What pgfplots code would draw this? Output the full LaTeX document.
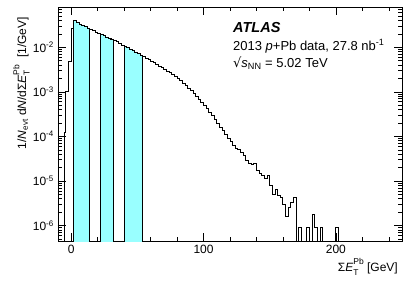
\documentclass[border=0pt]{standalone}
\usepackage{fontspec}
\setmainfont{Liberation Sans}
\newfontfamily\dejavu{DejaVu Sans}
\usepackage{pgfplots}
\pgfplotsset{compat=1.18}
\definecolor{atlcyan}{RGB}{153,255,255}
\newcommand{\ETPb}{\textit{E}\makebox[0pt][l]{\raisebox{-0.3em}{\fontsize{8.5}{9}\selectfont T}}\raisebox{0.55em}{\fontsize{8.5}{9}\selectfont Pb}}
\begin{document}
\fontsize{12}{14}\selectfont
\begin{tikzpicture}
\begin{axis}[
  scale only axis, width=344pt, height=234pt,
  ymode=log, log basis y=10,
  xmin=-10, xmax=250, ymin=4.5e-7, ymax=0.08,
  xtick={0,100,200}, minor xtick={20,40,60,80,120,140,160,180,220,240},
  /pgf/number format/assume math mode=true,
  yticklabel={10\textsuperscript{\pgfmathparse{int(round(\tick))}\pgfmathresult}},
  major tick length=8pt, minor tick length=4pt,
  tick style={black, line width=0.5pt},
  axis line style={line width=0.6pt},
  xlabel={Σ\ETPb\ [GeV]},
  ylabel={1/\textit{N}\textsubscript{evt} d\textit{N}/dΣ\ETPb\ \ [1/GeV]},
  every axis x label/.style={at={(rel axis cs:1,0)}, anchor=base east, yshift=-30.5pt},
  every axis y label/.style={at={(rel axis cs:0,0.974)}, rotate=90, anchor=base east, yshift=32pt},
  clip=true,
]
% shaded intervals
\addplot[const plot mark left, fill=atlcyan, draw=black, line width=0.8pt] coordinates {
(2,1e-9) (2,0.0398) (4,0.0363) (6,0.0331) (8,0.0309) (10,0.0288) (12,0.0269) (14,1e-9)} -- cycle;
\addplot[const plot mark left, fill=atlcyan, draw=black, line width=0.8pt] coordinates {
(22,1e-9) (22,0.0191) (24,0.0180) (26,0.0170) (28,0.0160) (30,0.0151) (32,1e-9)} -- cycle;
\addplot[const plot mark left, fill=atlcyan, draw=black, line width=0.8pt] coordinates {
(40,1e-9) (40,0.0105) (42,0.00977) (44,0.00912) (46,0.00851) (48,0.00776) (50,0.00724) (52,0.00661) (54,1e-9)} -- cycle;
% histogram
\addplot[const plot mark left, draw=black, line width=0.9pt] coordinates {
(-5,1e-9) (-5,1.2e-4) (-4,1.0e-3) (-2,4.7e-3) (0,0.026)
(2,0.0398) (4,0.0363) (6,0.0331) (8,0.0309) (10,0.0288) (12,0.0269)
(14,0.0251) (16,0.0234) (18,0.0219) (20,0.0204) (22,0.0191) (24,0.0180)
(26,0.0170) (28,0.0160) (30,0.0151) (32,0.0141) (34,0.0132) (36,0.0123)
(38,0.0112) (40,0.0105) (42,0.00977) (44,0.00912) (46,0.00851) (48,0.00776)
(50,0.00724) (52,0.00661) (54,0.00617) (56,0.00575) (58,0.00537) (60,0.00490)
(62,0.00457) (64,0.00417) (66,0.00380) (68,0.00347) (70,0.00316) (72,0.00288)
(74,0.00269) (76,0.00245) (78,0.00224) (80,0.00200) (82,0.00178) (84,0.00158)
(86,0.00138) (88,0.00120) (90,0.00105) (92,0.000912) (94,0.000794) (96,0.000676)
(98,0.000575) (100,0.000501) (102,0.000417) (104,0.000347) (106,0.000288) (108,0.000240)
(110,0.000195) (112,0.000162) (114,0.000135) (116,0.000112) (118,9.12e-5) (120,7.59e-5)
(122,6.31e-5) (124,5.37e-5) (126,5.01e-5) (128,4.47e-5) (130,3.80e-5) (132,2.88e-5)
(134,2.45e-5) (136,2.29e-5) (138,2.45e-5) (140,1.74e-5) (142,1.45e-5) (144,1.32e-5)
(146,1.12e-5) (148,1.32e-5) (150,7.94e-6) (152,5.01e-6) (154,6.61e-6) (156,4.68e-6)
(158,4.27e-6) (160,3.02e-6) (162,1.62e-6) (164,2.51e-6) (166,3.31e-6) (168,4.27e-6)
(170,1e-9) (172,9.1e-7) (174,1e-9) (178,9.1e-7) (180,1e-9) (182,1.82e-6) (184,9.1e-7)
(186,1e-9) (188,9.1e-7) (190,1e-9) (200,9.1e-7) (202,1e-9)};
\node[anchor=base west, font=\fontsize{14.5}{16}\selectfont\bfseries\itshape] at (rel axis cs:0.497,0.89) {ATLAS};
\node[anchor=base west, font=\fontsize{13}{15}\selectfont] at (rel axis cs:0.497,0.815) {2013 \textit{p}+Pb data, 27.8 nb\textsuperscript{-1}};
\node[anchor=base west, font=\fontsize{13}{15}\selectfont] at (rel axis cs:0.497,0.74) {{\dejavu √}\textit{s}\textsubscript{NN} = 5.02 TeV};
\end{axis}
\pgfresetboundingbox
\path[use as bounding box] (-58pt,-40pt) rectangle (357pt,241pt);
\end{tikzpicture}
\end{document}
